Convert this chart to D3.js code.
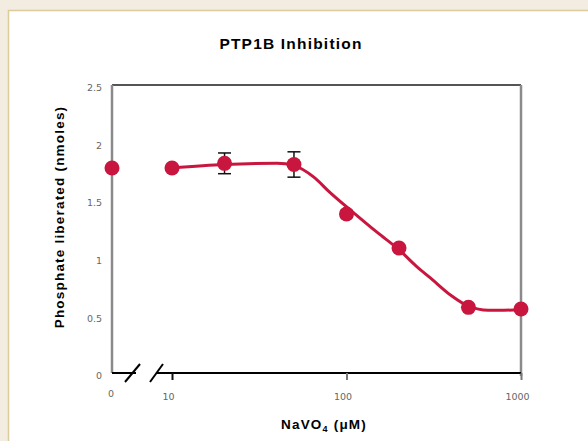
<!DOCTYPE html>
<html><head><meta charset="utf-8">
<script src="https://cdn.jsdelivr.net/npm/d3@7"></script>
<style>body{margin:0;background:#f2ebe0;}svg{display:block;}</style>
</head><body>
<script>
const concentrations = [0, 10, 20, 50, 100, 200, 500, 1000];
const phosphate = [1.78, 1.78, 1.82, 1.81, 1.38, 1.085, 0.57, 0.555];
const errors = [0, 0, 0.09, 0.11, 0.03, 0, 0, 0];
// fitted curve
const fitConc = [10, 20, 40, 50, 65, 80, 110, 150, 200, 250, 300, 400, 500, 650, 800, 1000];
const fitValues = [1.78, 1.81, 1.82, 1.80, 1.70, 1.57, 1.39, 1.22, 1.07, 0.93, 0.83, 0.67, 0.58, 0.545, 0.545, 0.55];
const xTickValues = [10, 100, 1000];
const xTickLabels = ["10", "100", "1000"];
const yTickValues = [0, 0.5, 1, 1.5, 2, 2.5];
const yTickLabels = ["0", "0.5", "1", "1.5", "2", "2.5"];

(function(){
const W = 588, H = 441;
const svg = d3.select("body").append("svg").attr("width", W).attr("height", H);
svg.append("rect").attr("width", W).attr("height", H).attr("fill", "#f3ece1");
svg.append("rect").attr("x", 8.5).attr("y", 10.5).attr("width", W).attr("height", H)
  .attr("fill", "#fff").attr("stroke", "#dccb9c").attr("stroke-width", 1.5);

const pL = 112, pR = 521, pT = 85, pB = 373;
const x = d3.scaleLog().domain([10, 1000]).range([172, pR]);
const y = d3.scaleLinear().domain([0, 2.5]).range([pB, pT]);
const xp = v => v === 0 ? pL : x(v);
const bold = "Liberation Sans, Arial, sans-serif";

svg.append("text").attr("x", 291).attr("y", 49).attr("text-anchor", "middle")
  .attr("font-family", bold).attr("font-weight", "bold")
  .attr("font-size", 15.5).attr("letter-spacing", 1.2).text("PTP1B Inhibition");

// frame
svg.append("line").attr("x1", pL).attr("x2", pR).attr("y1", pT).attr("y2", pT)
  .attr("stroke", "#555").attr("stroke-width", 2);
svg.append("line").attr("x1", pL).attr("x2", pL).attr("y1", pT).attr("y2", pB)
  .attr("stroke", "#8a8a8a").attr("stroke-width", 2.5);
svg.append("line").attr("x1", pR).attr("x2", pR).attr("y1", pT).attr("y2", pB + 3)
  .attr("stroke", "#8a8a8a").attr("stroke-width", 2.5);
// bottom axis with break
svg.append("line").attr("x1", pL).attr("x2", 136).attr("y1", pB).attr("y2", pB)
  .attr("stroke", "#000").attr("stroke-width", 2);
svg.append("line").attr("x1", 156).attr("x2", pR).attr("y1", pB).attr("y2", pB)
  .attr("stroke", "#000").attr("stroke-width", 2);
[[125, 140], [150, 163]].forEach(([a, b]) => {
  svg.append("line").attr("x1", a).attr("y1", pB + 9).attr("x2", b).attr("y2", pB - 9)
    .attr("stroke", "#000").attr("stroke-width", 2);
});

// x ticks
const lblFont = "DejaVu Sans, sans-serif";
const xa = svg.append("g").attr("transform", `translate(0,${pB})`)
  .call(d3.axisBottom(x).tickValues(xTickValues).tickFormat((d, i) => xTickLabels[i]).tickSize(7).tickPadding(13));
xa.select(".domain").remove();
xa.selectAll("line").attr("stroke", (d, i) => i === 0 ? "#111" : "#777").attr("stroke-width", 2);
xa.selectAll("text").attr("font-family", lblFont).attr("font-size", 9.5).attr("fill", "#666").attr("dx", -4);
svg.append("text").attr("x", pL - 1).attr("y", 397).attr("text-anchor", "middle")
  .attr("font-family", lblFont).attr("font-size", 9.5).attr("fill", "#666").text("0");

// y ticks
const ya = svg.append("g").attr("transform", `translate(${pL},0)`)
  .call(d3.axisLeft(y).tickValues(yTickValues).tickFormat((d, i) => yTickLabels[i]).tickSize(0).tickPadding(10));
ya.select(".domain").remove();
ya.selectAll("text").attr("font-family", lblFont).attr("font-size", 9.5).attr("fill", "#666").attr("dy", "0.6em");

// axis titles
svg.append("text").attr("transform", "translate(64,217) rotate(-90)").attr("text-anchor", "middle")
  .attr("font-family", bold).attr("font-weight", "bold").attr("letter-spacing", 1.2)
  .attr("font-size", 13.5).text("Phosphate liberated (nmoles)");
const xt = svg.append("text").attr("x", 324).attr("y", 429).attr("text-anchor", "middle")
  .attr("font-family", bold).attr("font-weight", "bold").attr("font-size", 13.5).attr("letter-spacing", 1.2);
xt.append("tspan").text("NaVO");
xt.append("tspan").attr("font-size", 9).attr("dy", 3).text("4");
xt.append("tspan").attr("dy", -3).text(" (\u03bcM)");

const col = "#c8163f";
const pts = concentrations.map((c, i) => ({c, v: phosphate[i], e: errors[i]}));
const fit = fitConc.map((c, i) => ({c, v: fitValues[i]}));
const line = d3.line().x(d => xp(d.c)).y(d => y(d.v)).curve(d3.curveMonotoneX);
svg.append("path").datum(fit).attr("d", line)
  .attr("fill", "none").attr("stroke", col).attr("stroke-width", 3);

pts.filter(d => d.e > 0).forEach(d => {
  const g = svg.append("g").attr("stroke", "#111").attr("stroke-width", 1.5);
  g.append("line").attr("x1", xp(d.c)).attr("x2", xp(d.c)).attr("y1", y(d.v + d.e)).attr("y2", y(d.v - d.e));
  g.append("line").attr("x1", xp(d.c) - 6.5).attr("x2", xp(d.c) + 6.5).attr("y1", y(d.v + d.e)).attr("y2", y(d.v + d.e));
  g.append("line").attr("x1", xp(d.c) - 6.5).attr("x2", xp(d.c) + 6.5).attr("y1", y(d.v - d.e)).attr("y2", y(d.v - d.e));
});

svg.selectAll("circle.pt").data(pts).join("circle").attr("class", "pt")
  .attr("cx", d => xp(d.c)).attr("cy", d => y(d.v)).attr("r", 7.5)
  .attr("fill", col);
})();
</script>
</body></html>
